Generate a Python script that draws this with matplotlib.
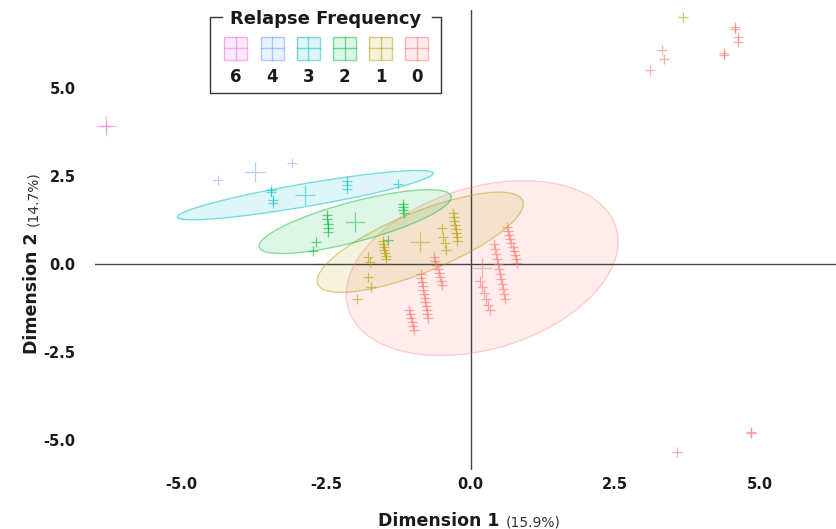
import numpy as np
import matplotlib.pyplot as plt

# groups (relapse frequency) and ggplot-style hue colours
groups = ['0', '1', '2', '3', '4', '6']
colors = ['#F8766D', '#B79F00', '#00BA38', '#00BFC4', '#619CFF', '#F564E3']
legend_order = ['6', '4', '3', '2', '1', '0']

# individuals
x_0 = [-1.071, -1.054, -1.036, -1.019, -1.002, -0.984,
       -0.864, -0.851, -0.839, -0.829, -0.817, -0.805, -0.793, -0.781, -0.769, -0.758, -0.746, -0.734,
       -0.630, -0.611, -0.591, -0.572, -0.551, -0.532, -0.511, -0.492,
       0.164, 0.199, 0.233, 0.268, 0.302, 0.337,
       0.397, 0.415, 0.432, 0.449, 0.466, 0.484, 0.501, 0.518, 0.535, 0.553, 0.570, 0.587,
       0.630, 0.649, 0.668, 0.687, 0.706, 0.727, 0.746, 0.765, 0.784, 0.803,
       3.307, 3.342, 3.100, 4.378, 4.378, 4.568, 4.568, 4.620, 4.620, 3.566, 4.845, 4.845]
y_0 = [-1.307, -1.420, -1.534, -1.648, -1.761, -1.875,
       -0.284, -0.398, -0.511, -0.625, -0.739, -0.852, -0.966, -1.080, -1.193, -1.307, -1.420, -1.534,
       0.199, 0.085, -0.028, -0.142, -0.256, -0.369, -0.483, -0.597,
       -0.483, -0.653, -0.824, -0.994, -1.165, -1.307,
       0.568, 0.426, 0.284, 0.142, 0.000, -0.142, -0.284, -0.426, -0.568, -0.710, -0.852, -0.994,
       1.051, 0.938, 0.824, 0.710, 0.597, 0.483, 0.369, 0.256, 0.142, 0.028,
       6.080, 5.824, 5.511, 5.994, 5.940, 6.733, 6.680, 6.449, 6.307, -5.341, -4.773, -4.800]

x_1 = [-1.52, -1.51, -1.50, -1.49, -1.48, -1.47, -1.46,
       -0.30, -0.29, -0.28, -0.27, -0.26, -0.25, -0.24, -0.23,
       -0.492, -0.475, -0.440, -0.423,
       -1.765, -1.736, -1.765, -1.724, -1.965,
       3.670]
y_1 = [0.653, 0.568, 0.483, 0.398, 0.313, 0.227, 0.142,
       1.449, 1.335, 1.222, 1.108, 0.994, 0.881, 0.767, 0.653,
       1.023, 0.767, 0.597, 0.398,
       0.199, 0.057, -0.369, -0.653, -0.994,
       7.01]

x_2 = [-2.478, -2.478, -2.470, -2.470, -2.465, -2.668, -2.720, -1.425, -1.166, -1.170, -1.160, -1.150]
y_2 = [1.39, 1.27, 1.15, 1.03, 0.91, 0.625, 0.369, 0.682, 1.705, 1.619, 1.534, 1.449]

x_3 = [-3.446, -3.446, -3.411, -3.411, -2.133, -2.133, -2.133, -1.252]
y_3 = [2.102, 2.05, 1.818, 1.733, 2.358, 2.244, 2.131, 2.273]

x_4 = [-4.361, -3.083]
y_4 = [2.386, 2.869]

x_6 = [-6.295]
y_6 = [3.920]

# group means
mean_x = [0.199, -0.872, -1.995, -2.858, -3.722, -6.295]
mean_y = [-0.114, 0.62, 1.207, 1.96, 2.622, 3.920]

# 95% ellipses: major and minor semi-axis vectors (data units), groups 0-3
ell_groups = ['0', '1', '2', '3']
ell_major = [(2.314, 1.151), (1.770, 1.185), (1.658, 0.724), (2.21, 0.625)]
ell_minor = [(0.404, -2.202), (0.195, -0.790), (0.088, -0.548), (0.034, -0.321)]

pts_x = {'0': x_0, '1': x_1, '2': x_2, '3': x_3, '4': x_4, '6': x_6}
pts_y = {'0': y_0, '1': y_1, '2': y_2, '3': y_3, '4': y_4, '6': y_6}
col = dict(zip(groups, colors))
pt_alpha = {'0': 0.6, '1': 0.6, '2': 0.6, '3': 0.55, '4': 0.45, '6': 0.45}
edge_alpha = {'0': 0.3, '1': 0.45, '2': 0.45, '3': 0.5}

W, H = 837, 529
fig = plt.figure(figsize=(W / 100, H / 100), dpi=100)
ax = fig.add_axes([95 / W, 1 - 470 / H, 1 - 95 / W, 460 / H])

font = 'DejaVu Sans'
ink = '#1a1a1a'

t = np.linspace(0, 2 * np.pi, 300)
for g, mj, mn in zip(ell_groups, ell_major, ell_minor):
    i = groups.index(g)
    ex = mean_x[i] + np.cos(t) * mj[0] + np.sin(t) * mn[0]
    ey = mean_y[i] + np.cos(t) * mj[1] + np.sin(t) * mn[1]
    ax.fill(ex, ey, color=col[g], alpha=0.13, lw=0)
    ax.plot(ex, ey, color=col[g], alpha=edge_alpha[g], lw=1)

ax.axhline(0, color='#444444', lw=1, zorder=1)
ax.axvline(0, color='#444444', lw=1, zorder=1)

for i, g in enumerate(groups):
    ax.plot(pts_x[g], pts_y[g], '+', color=col[g], ms=7, mew=0.9, alpha=pt_alpha[g], zorder=3)
    ax.plot(mean_x[i], mean_y[i], '+', color=col[g], ms=15, mew=0.9, alpha=0.5, zorder=3)

ax.set_xlim(-6.49, 6.33)
ax.set_ylim(-5.85, 7.22)
ticks = [-5.0, -2.5, 0.0, 2.5, 5.0]
ax.set_xticks(ticks)
ax.set_yticks(ticks)
ax.set_xticklabels([f'{v:.1f}' for v in ticks], fontfamily=font, fontweight='bold', fontsize=10.5)
ax.set_yticklabels([f'{v:.1f}' for v in ticks], fontfamily=font, fontweight='bold', fontsize=10.5)
ax.tick_params(length=0, colors=ink)
ax.tick_params(axis='x', pad=5)
ax.tick_params(axis='y', pad=14)
for s in ax.spines.values():
    s.set_visible(False)

# axis titles
fig.text(500 / W, 1 - 526 / H, 'Dimension 1', fontfamily=font, fontweight='bold', fontsize=12.5,
         ha='right', va='baseline', color=ink)
fig.text(506 / W, 1 - 526 / H, '(15.9%)', fontfamily=font, fontsize=10,
         ha='left', va='baseline', color='#333333')
fig.text(37 / W, 1 - 232 / H, 'Dimension 2', fontfamily=font, fontweight='bold', fontsize=12.5,
         ha='right', va='baseline', rotation=90, rotation_mode='anchor', color=ink)
fig.text(37 / W, 1 - 226 / H, '(14.7%)', fontfamily=font, fontsize=10,
         ha='left', va='baseline', rotation=90, rotation_mode='anchor', color='#333333')

# legend drawn in pixel space
lax = fig.add_axes([0, 0, 1, 1])
lax.set_xlim(0, W)
lax.set_ylim(H, 0)
lax.axis('off')
lax.plot([222, 210, 210, 441, 441, 432], [17, 17, 93, 93, 17, 17], color='#333333', lw=1)
lax.text(326, 19, 'Relapse Frequency', fontfamily=font, fontweight='bold', fontsize=13,
         ha='center', va='center', color=ink)
for k, g in enumerate(legend_order):
    cx = 236 + k * 36.2
    cy = 48
    c = col[g]
    lax.add_patch(plt.Rectangle((cx - 11.5, cy - 11.5), 23, 23, facecolor=c, alpha=0.13, lw=0))
    lax.add_patch(plt.Rectangle((cx - 11.5, cy - 11.5), 23, 23, fill=False, edgecolor=c, alpha=0.5, lw=1))
    lax.plot([cx - 11.5, cx + 11.5], [cy, cy], color=c, alpha=0.5, lw=1)
    lax.plot([cx, cx], [cy - 11.5, cy + 11.5], color=c, alpha=0.5, lw=1)
    lax.text(cx, 77, g, fontfamily=font, fontweight='bold', fontsize=12,
             ha='center', va='center', color=ink)

fig.savefig('out.png', dpi=100)
